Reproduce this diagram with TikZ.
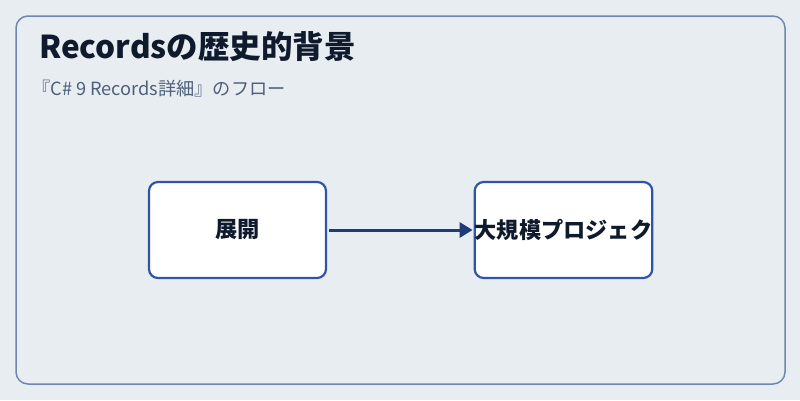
\documentclass[tikz,border=0pt]{standalone}
\usepackage{fontspec}
\setmainfont{Noto Sans CJK JP}
\usetikzlibrary{arrows.meta,positioning}
\definecolor{rcPage}{HTML}{E8EDF2}
\definecolor{rcFrame}{HTML}{6E87B0}
\definecolor{rcBorder}{HTML}{2F55A4}
\definecolor{rcArrow}{HTML}{1E3A78}
\definecolor{rcInk}{HTML}{0F1B2D}
\definecolor{rcMuted}{HTML}{4E6079}
\tikzset{
  rc diagram/.style={x=1pt, y=-1pt, line cap=round, line join=round},
  rc title/.style={font=\fontsize{31.5}{36}\selectfont\bfseries, text=rcInk,
    anchor=west, inner sep=0pt},
  rc subtitle/.style={font=\fontsize{18.2}{21}\selectfont, text=rcMuted,
    anchor=west, inner sep=0pt},
  rc box/.style={draw=rcBorder, fill=white, line width=2.2pt,
    rounded corners=9pt, minimum width=177pt, minimum height=96pt,
    inner sep=0pt, text=rcInk, font=\fontsize{22.2}{26}\selectfont\bfseries},
  rc arrow/.style={-{Triangle[length=13pt,width=15pt]}, draw=rcArrow,
    line width=3pt, line cap=butt, shorten <=2pt, shorten >=1pt}
}
\begin{document}
\begin{tikzpicture}[rc diagram]
\fill[rcPage] (0,0) rectangle (800,400);
\draw[rcFrame, line width=1.5pt, rounded corners=12pt] (16,16) rectangle (785,384);
\node[rc title] (title) at (39,47) {Recordsの歴史的背景};
\node[rc subtitle] (subtitle) at (32,89) {『C\# 9 Records詳細』のフロー};
\node[rc box] (deploy) at (237.5,230) {展開};
\node[rc box] (project) at (563.5,230) {大規模プロジェク};
\draw[rc arrow] (deploy) -- (project);
\end{tikzpicture}
\end{document}
